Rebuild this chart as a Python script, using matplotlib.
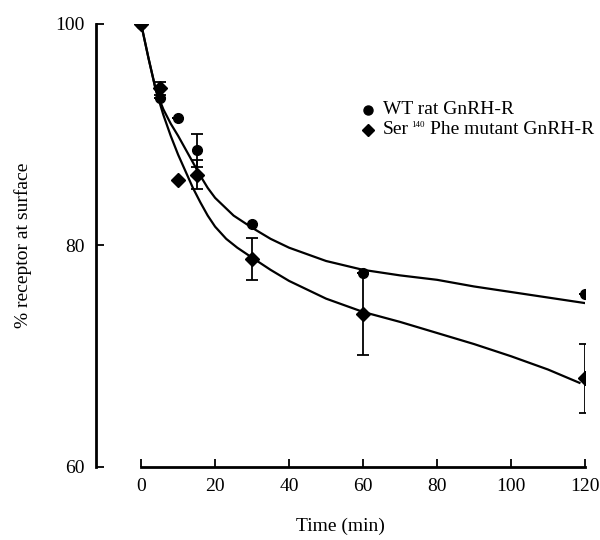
import numpy as np
import matplotlib.pyplot as plt
from matplotlib.lines import Line2D

plt.rcParams['font.family'] = ['Liberation Serif', 'DejaVu Serif']

# measured points
time = [0, 5, 10, 15, 30, 60, 120]
wt = [100, 93.3, 91.5, 88.6, 81.9, 77.5, 75.6]
wt_err = [0, 0, 0, 1.5, 0, 0, 0]
mut = [100, 94.2, 85.9, 86.4, 78.8, 73.8, 68.0]
mut_err = [0, 0.6, 0, 1.3, 1.9, 3.7, 3.1]

# fitted curves
wt_fit_t = [0, 2, 4, 6, 8, 10, 12, 14, 16, 18, 20, 25, 30, 35, 40, 50, 60,
            70, 80, 90, 100, 110, 120]
wt_fit = [100, 96.9, 94.0, 92.3, 91.0, 89.9, 88.7, 87.5, 86.3, 85.2, 84.3,
          82.7, 81.6, 80.6, 79.8, 78.6, 77.8, 77.3, 76.9, 76.3, 75.8, 75.3, 74.8]
mut_fit_t = [0, 2, 4, 6, 8, 10, 12, 14, 16, 18, 20, 23, 26, 30, 35, 40, 50,
             60, 70, 80, 90, 100, 110, 118.5]
mut_fit = [100, 96.9, 94.0, 91.8, 89.9, 88.2, 86.7, 85.2, 83.9, 82.7, 81.7,
           80.6, 79.8, 78.9, 77.8, 76.8, 75.2, 74.0, 73.1, 72.1, 71.1, 70.0,
           68.8, 67.6]

xticks = [0, 20, 40, 60, 80, 100, 120]
yticks = [60, 80, 100]

W, H = 600, 540
fig = plt.figure(figsize=(6, 5.4), dpi=100)
ax = fig.add_axes([0.16, 0.1352, 0.815, 0.8204])

ax.plot(wt_fit_t, wt_fit, 'k-', lw=1.6)
ax.plot(mut_fit_t, mut_fit, 'k-', lw=1.6)

ax.errorbar(time, wt, yerr=wt_err, fmt='o', color='k', ms=7, capsize=4,
            elinewidth=1.3, capthick=1.3)
ax.errorbar(time, mut, yerr=mut_err, fmt='D', color='k', ms=7, capsize=4,
            elinewidth=1.3, capthick=1.3)

ax.set_xlim(-12.2, 120)
ax.set_ylim(60, 100)
ax.set_xticks(xticks)
ax.set_yticks(yticks)
ax.spines['top'].set_visible(False)
ax.spines['right'].set_visible(False)
ax.spines['left'].set_linewidth(2)
ax.spines['bottom'].set_linewidth(2)
ax.spines['bottom'].set_bounds(0, 120)
ax.spines['left'].set_bounds(60, 100)
ax.tick_params(direction='in', length=6, width=1.3, labelsize=14, pad=8)

ax.set_xlabel('Time (min)', fontsize=14, labelpad=16)
ax.set_ylabel('% receptor at surface', fontsize=14, labelpad=17)

# legend, built by hand so the superscript can be small
def fx(px):
    return px / W

def fy(py):
    return 1 - py / H

fig.add_artist(Line2D([fx(368)], [fy(110)], transform=fig.transFigure,
                      marker='o', ms=6.5, color='k', ls=''))
fig.add_artist(Line2D([fx(368)], [fy(130)], transform=fig.transFigure,
                      marker='D', ms=6, color='k', ls=''))
fig.text(fx(383), fy(110), 'WT rat GnRH-R', fontsize=14, va='center', ha='left')
fig.text(fx(383), fy(130), 'Ser', fontsize=14, va='center', ha='left')
fig.text(fx(411), fy(125), '140', fontsize=6.5, va='center', ha='left')
fig.text(fx(430), fy(130), 'Phe mutant GnRH-R', fontsize=14, va='center', ha='left')

plt.savefig('out.png', dpi=100)
